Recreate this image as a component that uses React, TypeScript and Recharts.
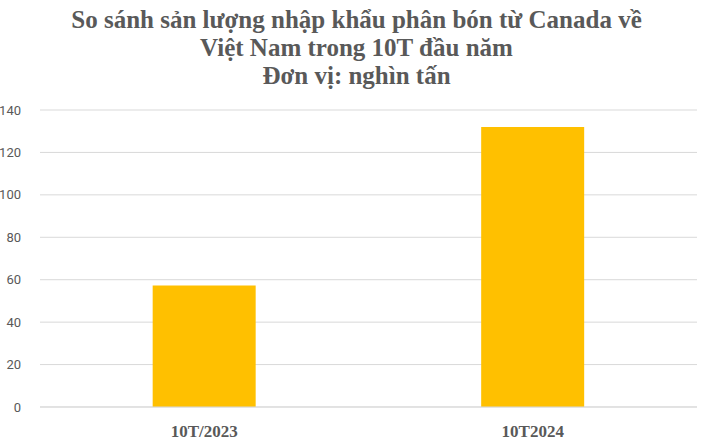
import { Bar, BarChart, CartesianGrid, XAxis, YAxis } from "recharts";

const categories = ["10T/2023", "10T2024"];
const volumes = [57.3, 132];
const yTicks = [0, 20, 40, 60, 80, 100, 120, 140];
const titleLines = [
  "So sánh sản lượng nhập khẩu phân bón từ Canada về",
  "Việt Nam trong 10T đầu năm",
  "Đơn vị: nghìn tấn",
];

const data = categories.map((name, i) => ({ name, value: volumes[i] }));

const GRAY = "#595959";
const SERIF = "'Times New Roman', 'Liberation Serif', serif";

export default function App() {
  return (
    <div
      style={{
        position: "absolute",
        left: 0,
        top: 0,
        width: 713,
        height: 448,
        background: "#fff",
      }}
    >
      <div
        style={{
          position: "absolute",
          top: 6,
          left: 0,
          width: 713,
          textAlign: "center",
          fontFamily: SERIF,
          fontWeight: "bold",
          fontSize: 25,
          lineHeight: "28px",
          color: GRAY,
        }}
      >
        {titleLines.map((t) => (
          <div key={t}>{t}</div>
        ))}
      </div>
      <BarChart
        width={713}
        height={448}
        data={data}
        margin={{ top: 110, right: 16, bottom: 11, left: 0 }}
        barCategoryGap="34.3%"
      >
        <CartesianGrid vertical={false} stroke="#d9d9d9" />
        <XAxis
          dataKey="name"
          axisLine={{ stroke: "#d9d9d9" }}
          tickLine={false}
          height={30}
          tickMargin={12}
          tick={{
            fill: GRAY,
            fontSize: 17,
            fontWeight: "bold",
            fontFamily: SERIF,
          }}
        />
        <YAxis
          domain={[0, 140]}
          ticks={yTicks}
          axisLine={false}
          tickLine={false}
          width={40}
          tickMargin={13}
          tick={{
            fill: GRAY,
            fontSize: 13,
            fontFamily: "'Liberation Sans Narrow', 'Roboto', sans-serif",
          }}
        />
        <Bar dataKey="value" fill="#FFC000" isAnimationActive={false} />
      </BarChart>
    </div>
  );
}
